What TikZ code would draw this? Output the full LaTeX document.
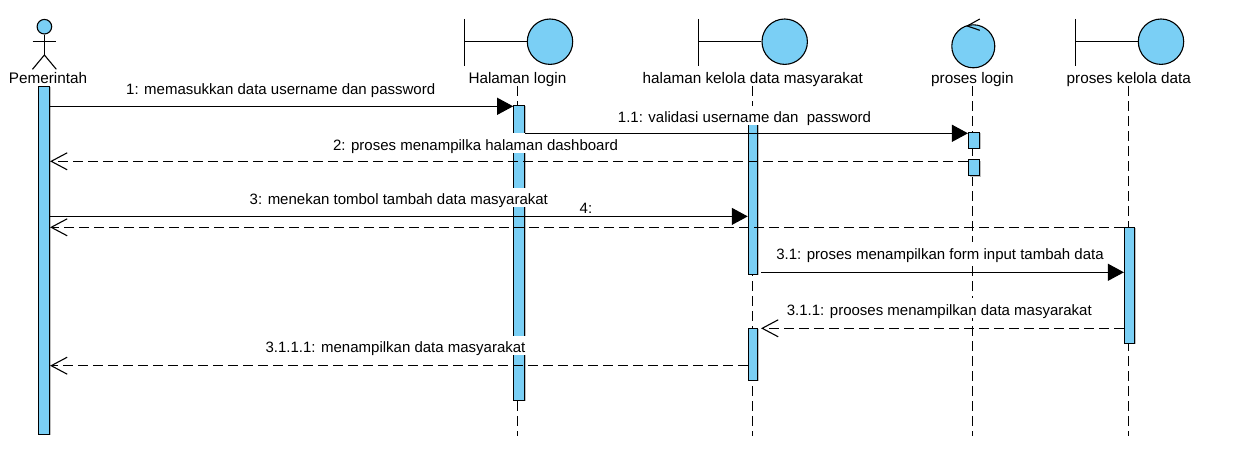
\documentclass[tikz,border=0pt]{standalone}
\usepackage{fontspec}
\setmainfont{Liberation Sans}
\usetikzlibrary{
    arrows.meta,
    shadows,
    positioning
  }
\definecolor{umlblue}{RGB}{122,207,245}
\tikzstyle{obj}=[circle,draw,fill=umlblue,line width=1.1pt,inner sep=0pt]
\tikzstyle{actbar}=[rectangle,draw,fill=umlblue,line width=1.1pt,inner sep=0pt,minimum width=11pt,drop shadow={shadow xshift=1pt,shadow yshift=-1pt,fill=black!25,opacity=1}]
\tikzstyle{lbl}=[font=\fontsize{15.3}{17}\selectfont,anchor=base,inner sep=0pt,text depth=2pt]
\tikzstyle{msglbl}=[font=\fontsize{15}{17}\selectfont,anchor=base,fill=white,inner xsep=1pt,inner ysep=0pt,text height=17pt,text depth=2.5pt]
\tikzstyle{lifeline}=[line width=1.1pt,dash pattern=on 10pt off 5pt]
\tikzstyle{msgcall}=[line width=1.1pt,-{Triangle[length=16pt,width=17pt]}]
\tikzstyle{msgret}=[line width=1.1pt,dash pattern=on 10pt off 5pt,-{Straight Barb[length=16pt,width=17pt]}]
\begin{document}
\begin{tikzpicture}[x=1pt,y=-1pt]
    \useasboundingbox (0,0) rectangle (1257,473);
    \coordinate (bottom) at (0,436);
    \node [lbl] (pem) at (48,84) {Pemerintah};
    \node [lbl] (hal) at (517.4,84) {Halaman login};
    \node [lbl] (kel) at (752.8,84) {halaman kelola data masyarakat};
    \node [lbl] (plog) at (972.4,84) {proses login};
    \node [lbl] (pdat) at (1128.8,84) {proses kelola data};
    \draw [lifeline] (hal.south) -- (hal.south |- bottom);
    \draw [lifeline] (kel.south) -- (kel.south |- bottom);
    \draw [lifeline] (plog.south) -- (plog.south |- bottom);
    \draw [lifeline] (pdat.south) -- (pdat.south |- bottom);
    \node [obj, minimum size=14.6pt] (head) at (44.4,26.7) {};
    \coordinate (armL) at (32.5,41.3);
    \coordinate (armR) at (56.3,41.3);
    \coordinate (hip) at (44.4,55);
    \coordinate (legL) at (32.5,69.3);
    \coordinate (legR) at (56.3,69.3);
    \draw [line width=1.1pt] (head.south) -- (hip);
    \draw [line width=1.1pt] (armL) -- (armR);
    \draw [line width=1.1pt] (legL) -- (hip) -- (legR);
    \node [obj, minimum size=45.4pt] (c1) at (550,41.7) {};
    \coordinate (t1) at (464.6,19);
    \coordinate (b1) at (464.6,65.7);
    \draw [line width=1.1pt] (t1) -- (b1);
    \draw [line width=1.1pt] (t1 |- c1.west) -- (c1.west);
    \node [obj, minimum size=45.4pt] (c2) at (784.7,41.7) {};
    \coordinate (t2) at (698.6,19);
    \coordinate (b2) at (698.6,65.7);
    \draw [line width=1.1pt] (t2) -- (b2);
    \draw [line width=1.1pt] (t2 |- c2.west) -- (c2.west);
    \node [obj, minimum size=43pt] (c3) at (973.3,46.3) {};
    \coordinate (a1) at (979.8,19);
    \coordinate (a2) at (967.2,26);
    \coordinate (a3) at (979.8,30.3);
    \draw [line width=1.1pt] (a1) -- (a2) -- (a3);
    \node [obj, minimum size=45.4pt] (c4) at (1161,41.7) {};
    \coordinate (t4) at (1075.4,19);
    \coordinate (b4) at (1075.4,65.7);
    \draw [line width=1.1pt] (t4) -- (b4);
    \draw [line width=1.1pt] (t4 |- c4.west) -- (c4.west);
    \node [actbar, minimum height=348pt] (bpem) at (44,260.3) {};
    \node [actbar, minimum height=295pt] (bhal) at (519.2,252.8) {};
    \node [actbar, minimum height=168pt, minimum width=9.6pt] (bkel) at (753.1,190.3) {};
    \node [actbar, minimum height=52pt, minimum width=9.6pt] (bkel2) at (753.1,354.3) {};
    \node [actbar, minimum height=16pt] (bplog) at (974,140.3) {};
    \node [actbar, minimum height=16.3pt] (bplog2) at (974,167.8) {};
    \node [actbar, minimum height=116pt, minimum width=10.3pt] (bdat) at (1129.6,285.3) {};
    \coordinate (m1) at (0,106.3);
    \coordinate (m11) at (0,133.3);
    \coordinate (m2) at (0,161.3);
    \coordinate (m3) at (0,216.4);
    \coordinate (m4) at (0,227.3);
    \coordinate (m31) at (0,272.3);
    \coordinate (m311) at (0,328.3);
    \coordinate (m3111) at (0,365.7);
    \draw [msgcall] (bpem.east |- m1) -- (bhal.west |- m1);
    \draw [msgret] (bplog2.west |- m2) -- (bpem.east |- m2);
    \draw [msgret] (bdat.west |- m4) -- (bpem.east |- m4);
    \draw [msgcall] ([xshift=2.6pt]bkel.east |- m31) -- (bdat.west |- m31);
    \draw [msgret] (bdat.west |- m311) -- ([xshift=2.6pt]bkel2.east |- m311);
    \draw [msgret] (bkel2.west |- m3111) -- (bpem.east |- m3111);
    \node [msglbl] (l1) at (280.7,95) {1: memasukkan data username dan password};
    \node [msglbl] (l11) at (744.5,122.7) {1.1: validasi username dan\ \ password};
    \node [msglbl] (l2) at (475.5,150.5) {2: proses menampilka halaman dashboard};
    \node [msglbl] (l3) at (398.8,204.7) {3: menekan tombol tambah data masyarakat};
    \node [msglbl] (l4) at (588,213.3) {4:\ \ };
    \node [msglbl] (l31) at (940,259.3) {3.1: proses menampilkan form input tambah data};
    \node [msglbl] (l311) at (939.3,315.3) {3.1.1: prooses menampilkan data masyarakat};
    \node [msglbl] (l3111) at (395.5,352.7) {3.1.1.1: menampilkan data masyarakat};
    \draw [msgcall] (bpem.east |- m3) -- (bkel.west |- m3);
    \draw [msgcall] (bhal.east |- m11) -- (bplog.west |- m11);
    \end{tikzpicture}
\end{document}
